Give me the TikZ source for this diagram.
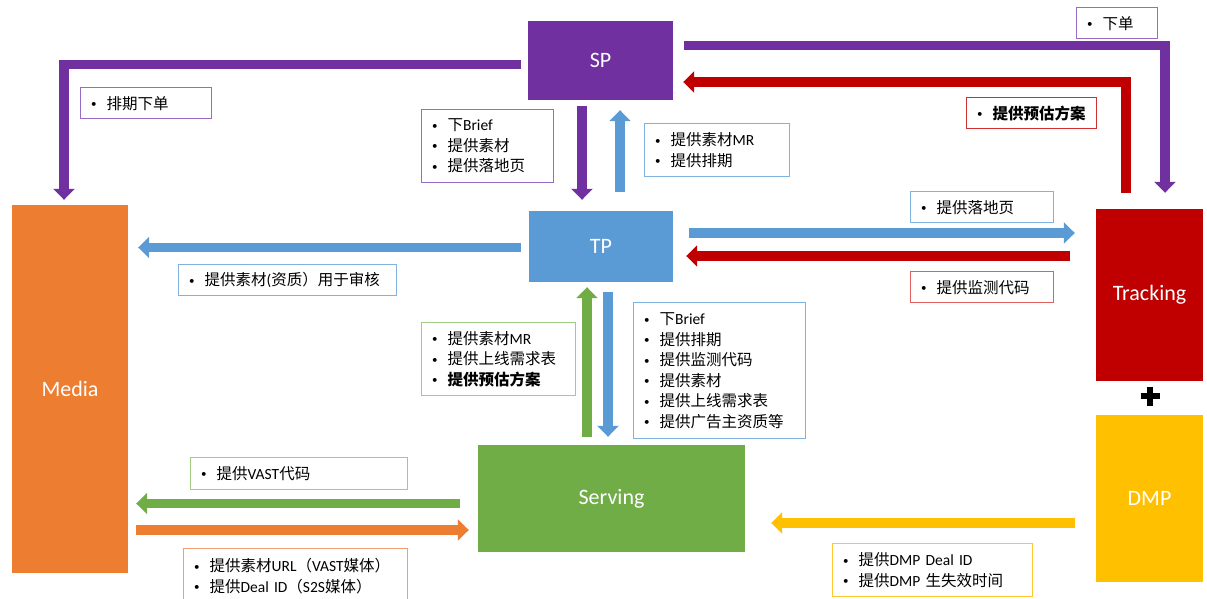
\documentclass[tikz,border=0pt]{standalone}
\usepackage{fontspec}
\setmainfont{Carlito}
\newfontfamily\cjk{Noto Sans CJK SC}
\usetikzlibrary{arrows.meta,calc}
\definecolor{cpur}{HTML}{7030A0}
\definecolor{cblu}{HTML}{5B9BD5}
\definecolor{cred}{HTML}{C00000}
\definecolor{cora}{HTML}{ED7D31}
\definecolor{cgrn}{HTML}{70AD47}
\definecolor{cyel}{HTML}{FFC000}
\definecolor{bpur}{HTML}{9A6BC6}
\definecolor{bblu}{HTML}{7FB2E0}
\definecolor{bred}{HTML}{D03030}
\definecolor{bred2}{HTML}{E06060}
\definecolor{bgrn}{HTML}{A0CC85}
\definecolor{bora}{HTML}{F0A070}
\definecolor{byel}{HTML}{FFC830}
\newcommand\zh[1]{{\cjk #1}}
\newcommand\zhb[1]{{\cjk\bfseries #1}}
\newcommand\bul{\makebox[18pt][l]{\hspace{2.5pt}\raisebox{1.6pt}{\fontsize{11}{11}\selectfont •}}}
\tikzset{
  blk/.style={fill=#1, draw=none, text=white, inner sep=0pt,
    font=\fontsize{22}{26}\selectfont},
  lbl/.style={draw=#1, line width=1.3pt, fill=white, anchor=north west,
    align=left, inner xsep=8pt, inner ysep=0pt,
    font=\fontsize{15.5}{20.5}\selectfont},
  fl/.style={draw=#1, line width=9.5pt,
    -{Triangle[length=11pt,width=21pt]}}
}
\begin{document}
\begin{tikzpicture}[x=1pt,y=-1pt]
\useasboundingbox (0,0) rectangle (1207,599);
% main blocks
\node[blk=cpur, minimum width=145pt, minimum height=79pt] (SP) at (600.5,60.5) {SP};
\node[blk=cblu, minimum width=144pt, minimum height=71pt] (TP) at (601,246.5) {TP};
\node[blk=cora, minimum width=116pt, minimum height=368pt] (Media) at (70,389) {Media};
\node[blk=cgrn, minimum width=267pt, minimum height=107pt] (Serving) at (611.5,498.5) {Serving};
\node[blk=cred, minimum width=107pt, minimum height=172pt] (Tracking) at (1149.5,295) {Tracking};
\node[blk=cyel, minimum width=107pt, minimum height=167pt] (DMP) at (1149.5,498.5) {DMP};
% plus
\coordinate (plus) at (1150,396);
\draw[line width=6pt] ($(plus)+(-9.5,0)$) -- ($(plus)+(9.5,0)$);
\draw[line width=6pt] ($(plus)+(0,-9.5)$) -- ($(plus)+(0,9.5)$);
% arrows
\draw[fl=cpur] ($(SP.west)+(-7,4)$) -| ($(Media.north)+(-6,-5)$);
\draw[fl=cpur] ($(SP.east)+(11,-15)$) -| ($(Tracking.north)+(15.5,-16)$);
\draw[fl=cred] ($(Tracking.north)+(-23.5,-16)$) |- ($(SP.east)+(10,21.5)$);
\draw[fl=cpur] ($(SP.south)+(-18.5,6)$) -- ($(TP.north)+(-19,-11)$);
\draw[fl=cblu] ($(TP.north)+(19,-19)$) -- ($(SP.south)+(19.5,10)$);
\draw[fl=cblu] ($(TP.west)+(-8,1)$) -- ($(Media.east|-TP.west)+(10,1)$);
\draw[fl=cblu] ($(TP.east)+(16,-13.5)$) -- ($(Tracking.west|-TP.east)+(-21,-13.5)$);
\draw[fl=cred] ($(Tracking.west|-TP.east)+(-26,9.5)$) -- ($(TP.east)+(13,9.5)$);
\draw[fl=cgrn] ($(Serving.north)+(-24.5,-8)$) -- ($(TP.south)+(-14,5)$);
\draw[fl=cblu] ($(TP.south)+(7,10)$) -- ($(Serving.north)+(-3.5,-8)$);
\draw[fl=cgrn] ($(Serving.west)+(-18,5)$) -- ($(Media.east|-Serving.west)+(8,5)$);
\draw[fl=cora] ($(Media.east|-Serving.west)+(8,31.5)$) -- ($(Serving.west)+(-9,31.5)$);
\draw[fl=cyel] ($(DMP.west)+(-21,24.5)$) -- ($(Serving.east|-DMP.west)+(26,24.5)$);
% labels
\node[lbl=bpur, text width=115pt, minimum height=31pt] (L1) at (80,87) {\bul\zh{排期下单}};
\node[lbl=bpur, text width=116pt, minimum height=73pt] (L2) at (421,109) {\bul\zh{下}Brief\\\bul\zh{提供素材}\\\bul\zh{提供落地页}};
\node[lbl=bblu, text width=129pt, minimum height=53pt] (L3) at (644,123) {\bul\zh{提供素材}MR\\\bul\zh{提供排期}};
\node[lbl=bpur, text width=65pt, minimum height=31pt] (L4) at (1076,7) {\bul\zh{下单}};
\node[lbl=bred, text width=114pt, minimum height=31pt] (L5) at (966,97) {\bul\zhb{提供预估方案}};
\node[lbl=bblu, text width=127pt, minimum height=31pt] (L6) at (910,191) {\bul\zh{提供落地页}};
\node[lbl=bred2, text width=127pt, minimum height=31pt] (L7) at (910,271) {\bul\zh{提供监测代码}};
\node[lbl=bblu, text width=202pt, minimum height=31pt] (L8) at (178,264) {\bul\zh{提供素材}(\zh{资质）用于审核}};
\node[lbl=bgrn, text width=138pt, minimum height=73pt] (L9) at (421,322) {\bul\zh{提供素材}MR\\\bul\zh{提供上线需求表}\\\bul\zhb{提供预估方案}};
\node[lbl=bblu, text width=156pt, minimum height=136pt] (L10) at (633,302) {\bul\zh{下}Brief\\\bul\zh{提供排期}\\\bul\zh{提供监测代码}\\\bul\zh{提供素材}\\\bul\zh{提供上线需求表}\\\bul\zh{提供广告主资质等}};
\node[lbl=bgrn, text width=201pt, minimum height=32pt] (L11) at (190,457) {\bul\zh{提供}VAST\zh{代码}};
\node[lbl=bora, text width=208pt, minimum height=55pt] (L12) at (183,548) {\bul\zh{提供素材}URL\zh{（}VAST\zh{媒体）}\\\bul\zh{提供}Deal ID\zh{（}S2S\zh{媒体）}};
\node[lbl=byel, text width=184pt, minimum height=53pt] (L13) at (832,543) {\bul\zh{提供}DMP Deal ID\\\bul\zh{提供}DMP \zh{生失效时间}};
\end{tikzpicture}
\end{document}
